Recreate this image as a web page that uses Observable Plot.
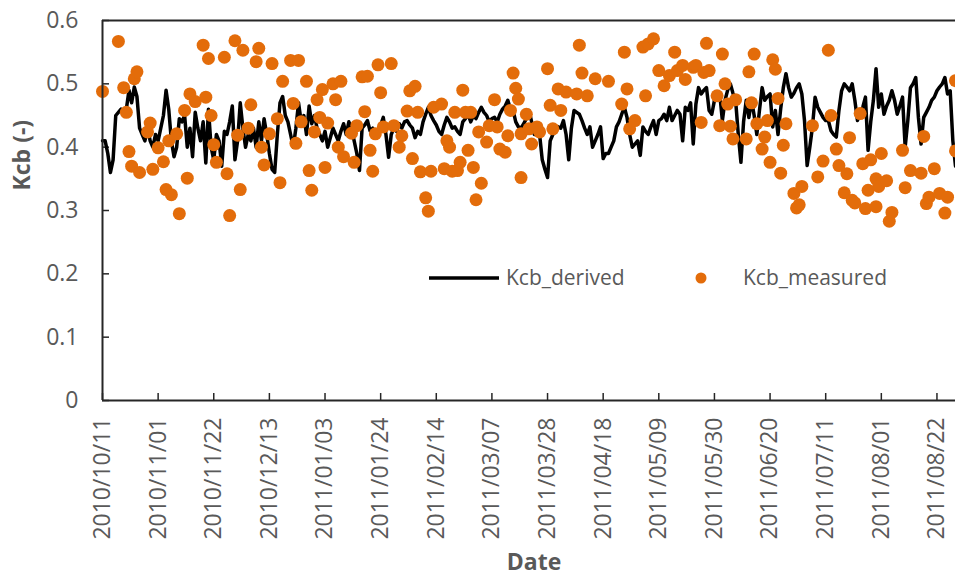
<!DOCTYPE html>
<html><head><meta charset="utf-8">
<script src="https://cdn.jsdelivr.net/npm/d3@7"></script>
<script src="https://cdn.jsdelivr.net/npm/@observablehq/plot@0.6"></script>
<style>body{margin:0;background:#fff;}</style>
</head><body><div id="chart"></div>
<script>
// ---- data ----
const startDate = "2010-10-11";
const endDate = "2011-08-29";
// Kcb_derived, one value per day from startDate
const derivedValues = [
0.41,0.41,0.39,0.36,0.38,0.45,0.455,0.46,0.455,0.46,
0.49,0.47,0.495,0.48,0.43,0.42,0.41,0.43,0.41,0.40,
0.42,0.41,0.43,0.45,0.49,0.46,0.41,0.385,0.40,0.445,
0.44,0.45,0.40,0.43,0.385,0.455,0.43,0.41,0.44,0.375,
0.46,0.40,0.38,0.42,0.41,0.37,0.425,0.42,0.44,0.465,
0.38,0.41,0.47,0.43,0.40,0.42,0.41,0.43,0.40,0.44,
0.41,0.445,0.42,0.39,0.365,0.36,0.42,0.47,0.48,0.45,
0.44,0.42,0.40,0.43,0.47,0.44,0.45,0.42,0.465,0.437,
0.45,0.43,0.42,0.41,0.425,0.40,0.415,0.43,0.42,0.41,
0.425,0.437,0.42,0.44,0.43,0.41,0.39,0.363,0.43,0.435,
0.442,0.426,0.43,0.415,0.42,0.435,0.447,0.42,0.384,0.42,
0.43,0.425,0.437,0.43,0.44,0.442,0.435,0.43,0.415,0.425,
0.42,0.44,0.452,0.463,0.45,0.442,0.435,0.425,0.42,0.435,
0.447,0.44,0.43,0.432,0.425,0.42,0.44,0.445,0.452,0.44,
0.45,0.445,0.455,0.463,0.455,0.45,0.44,0.445,0.447,0.44,
0.452,0.46,0.465,0.474,0.46,0.458,0.44,0.432,0.43,0.437,
0.445,0.458,0.44,0.42,0.425,0.42,0.38,0.365,0.352,0.41,
0.42,0.425,0.432,0.43,0.442,0.42,0.38,0.43,0.458,0.455,
0.452,0.442,0.43,0.42,0.432,0.40,0.41,0.42,0.432,0.382,
0.39,0.39,0.40,0.41,0.432,0.44,0.452,0.463,0.447,0.42,
0.40,0.405,0.41,0.387,0.432,0.425,0.42,0.432,0.442,0.42,
0.442,0.445,0.452,0.442,0.463,0.442,0.45,0.458,0.452,0.41,
0.463,0.458,0.47,0.405,0.468,0.494,0.484,0.49,0.494,0.458,
0.452,0.474,0.48,0.484,0.442,0.474,0.49,0.50,0.485,0.474,
0.42,0.376,0.44,0.474,0.447,0.474,0.45,0.42,0.458,0.494,
0.474,0.48,0.484,0.432,0.458,0.42,0.46,0.494,0.516,0.494,
0.479,0.485,0.494,0.50,0.484,0.442,0.371,0.40,0.432,0.479,
0.463,0.455,0.447,0.442,0.442,0.426,0.42,0.416,0.458,0.489,
0.50,0.495,0.489,0.50,0.474,0.442,0.455,0.463,0.479,0.395,
0.44,0.474,0.524,0.463,0.484,0.452,0.465,0.474,0.489,0.474,
0.452,0.465,0.479,0.40,0.442,0.494,0.50,0.51,0.447,0.405,
0.447,0.455,0.463,0.474,0.479,0.489,0.495,0.50,0.51,0.484,
0.489,0.41,0.37
];
const measuredDates = [
"2010-10-11","2010-10-17","2010-10-19","2010-10-20","2010-10-21","2010-10-22","2010-10-23","2010-10-24","2010-10-25","2010-10-28",
"2010-10-29","2010-10-30","2010-11-01","2010-11-03","2010-11-04","2010-11-05","2010-11-06","2010-11-08","2010-11-09","2010-11-11",
"2010-11-12","2010-11-13","2010-11-15","2010-11-18","2010-11-19","2010-11-20","2010-11-21","2010-11-22","2010-11-23","2010-11-26",
"2010-11-27","2010-11-28","2010-11-30","2010-12-01","2010-12-02","2010-12-03","2010-12-05","2010-12-06","2010-12-08","2010-12-09",
"2010-12-10","2010-12-11","2010-12-13","2010-12-14","2010-12-16","2010-12-17","2010-12-18","2010-12-21","2010-12-22","2010-12-23",
"2010-12-24","2010-12-25","2010-12-27","2010-12-28","2010-12-29","2010-12-30","2010-12-31","2011-01-01","2011-01-02","2011-01-03",
"2011-01-04","2011-01-06","2011-01-07","2011-01-08","2011-01-09","2011-01-10","2011-01-13","2011-01-14","2011-01-15","2011-01-17",
"2011-01-18","2011-01-19","2011-01-20","2011-01-21","2011-01-22","2011-01-23","2011-01-24","2011-01-25","2011-01-28","2011-01-29",
"2011-01-31","2011-02-01","2011-02-03","2011-02-04","2011-02-05","2011-02-06","2011-02-07","2011-02-08","2011-02-10","2011-02-11",
"2011-02-12","2011-02-13","2011-02-16","2011-02-17","2011-02-18","2011-02-19","2011-02-20","2011-02-21","2011-02-22","2011-02-23",
"2011-02-24","2011-02-25","2011-02-26","2011-02-27","2011-02-28","2011-03-01","2011-03-02","2011-03-03","2011-03-05","2011-03-06",
"2011-03-08","2011-03-09","2011-03-10","2011-03-12","2011-03-13","2011-03-14","2011-03-15","2011-03-16","2011-03-17","2011-03-18",
"2011-03-18","2011-03-20","2011-03-21","2011-03-22","2011-03-24","2011-03-25","2011-03-28","2011-03-29","2011-03-30","2011-04-01",
"2011-04-02","2011-04-04","2011-04-08","2011-04-09","2011-04-10","2011-04-12","2011-04-15","2011-04-20","2011-04-25","2011-04-26",
"2011-04-27","2011-04-28","2011-04-30","2011-05-03","2011-05-04","2011-05-05","2011-05-07","2011-05-09","2011-05-11","2011-05-13",
"2011-05-15","2011-05-16","2011-05-18","2011-05-19","2011-05-22","2011-05-23","2011-05-25","2011-05-26","2011-05-27","2011-05-28",
"2011-05-31","2011-06-01","2011-06-02","2011-06-03","2011-06-04","2011-06-05","2011-06-06","2011-06-07","2011-06-11","2011-06-12",
"2011-06-13","2011-06-14","2011-06-15","2011-06-17","2011-06-18","2011-06-19","2011-06-20","2011-06-21","2011-06-22","2011-06-23",
"2011-06-24","2011-06-25","2011-06-26","2011-06-29","2011-06-30","2011-07-01","2011-07-02","2011-07-06","2011-07-08","2011-07-10",
"2011-07-12","2011-07-13","2011-07-15","2011-07-16","2011-07-18","2011-07-19","2011-07-20","2011-07-21","2011-07-22","2011-07-24",
"2011-07-25","2011-07-26","2011-07-27","2011-07-28","2011-07-30","2011-07-30","2011-07-31","2011-08-01","2011-08-03","2011-08-04",
"2011-08-05","2011-08-09","2011-08-10","2011-08-12","2011-08-16","2011-08-17","2011-08-18","2011-08-19","2011-08-21","2011-08-23",
"2011-08-25","2011-08-26","2011-08-29","2011-08-29"
];
const measuredValues = [
0.488,0.567,0.494,0.455,0.393,0.370,0.508,0.519,0.360,0.424,
0.438,0.365,0.399,0.377,0.333,0.410,0.325,0.421,0.295,0.458,
0.351,0.484,0.472,0.561,0.479,0.540,0.450,0.404,0.376,0.542,
0.358,0.292,0.568,0.419,0.333,0.553,0.430,0.467,0.535,0.556,
0.400,0.372,0.421,0.532,0.445,0.344,0.504,0.537,0.469,0.406,
0.537,0.440,0.504,0.363,0.332,0.424,0.475,0.447,0.491,0.368,
0.438,0.500,0.475,0.400,0.504,0.385,0.422,0.376,0.434,0.511,
0.456,0.512,0.395,0.362,0.421,0.530,0.486,0.432,0.532,0.434,
0.400,0.418,0.457,0.489,0.382,0.496,0.455,0.361,0.320,0.299,
0.362,0.463,0.468,0.366,0.410,0.400,0.362,0.455,0.363,0.376,
0.490,0.455,0.395,0.455,0.368,0.317,0.424,0.343,0.408,0.434,
0.475,0.432,0.397,0.392,0.418,0.458,0.517,0.493,0.476,0.352,
0.421,0.452,0.429,0.405,0.432,0.424,0.524,0.466,0.429,0.492,
0.458,0.487,0.484,0.561,0.517,0.481,0.508,0.504,0.468,0.550,
0.492,0.429,0.442,0.558,0.481,0.563,0.571,0.521,0.497,0.513,
0.550,0.521,0.529,0.507,0.526,0.529,0.439,0.518,0.564,0.521,
0.481,0.434,0.547,0.500,0.468,0.433,0.413,0.475,0.413,0.519,
0.470,0.547,0.437,0.397,0.416,0.442,0.376,0.538,0.523,0.477,
0.359,0.403,0.437,0.327,0.304,0.309,0.338,0.434,0.353,0.378,
0.553,0.450,0.397,0.371,0.328,0.358,0.415,0.316,0.312,0.453,
0.374,0.303,0.332,0.380,0.306,0.350,0.338,0.390,0.347,0.283,
0.297,0.395,0.336,0.363,0.359,0.417,0.311,0.321,0.366,0.327,
0.296,0.321,0.505,0.394
];
const xTickDates = ["2010-10-11","2010-11-01","2010-11-22","2010-12-13","2011-01-03","2011-01-24","2011-02-14","2011-03-07","2011-03-28","2011-04-18","2011-05-09","2011-05-30","2011-06-20","2011-07-11","2011-08-01","2011-08-22"];
const yTicks = [0, 0.1, 0.2, 0.3, 0.4, 0.5, 0.6];
const yTickLabels = ["0", "0.1", "0.2", "0.3", "0.4", "0.5", "0.6"];
const seriesNames = ["Kcb_derived", "Kcb_measured"];

// ---- build ----
const parse = d3.utcParse("%Y-%m-%d");
const start = parse(startDate);
const derived = derivedValues.map((v, i) => ({date: d3.utcDay.offset(start, i), value: v}));
const measured = measuredDates.map((d, i) => ({date: parse(d), value: measuredValues[i]}));
const xTicks = xTickDates.map(parse);
const orange = "#e36c0a";
const axisColor = "#262626";
const textColor = "#595959";

const chart = Plot.plot({
  width: 955, height: 577,
  marginLeft: 102, marginRight: 0, marginTop: 20, marginBottom: 177,
  style: {fontFamily: "'Open Sans', sans-serif", fontSize: "23px", color: textColor, background: "white"},
  x: {type: "utc", domain: [start, parse(endDate)]},
  y: {domain: [0, 0.6]},
  marks: [
    Plot.axisY({ticks: yTicks, tickFormat: d => yTickLabels[yTicks.indexOf(d)], tickSize: 0, tickPadding: 24, label: null, fontSize: 23}),
    Plot.axisX({ticks: xTicks, tickFormat: d3.utcFormat("%Y/%m/%d"), tickRotate: -90, tickSize: 0, tickPadding: 17, label: null, fontSize: 23}),
    Plot.tickX(xTicks, {x: d => d, insetTop: 373, stroke: axisColor, strokeWidth: 1.5}),
    Plot.tickY(yTicks, {y: d => d, insetRight: 846, stroke: axisColor, strokeWidth: 1.5}),
    Plot.line(derived, {x: "date", y: "value", stroke: "black", strokeWidth: 3.5}),
    Plot.dot(measured, {x: "date", y: "value", r: 6.5, fill: orange, stroke: "none"}),
    Plot.ruleY([0, 0.6], {stroke: axisColor, strokeWidth: 2}),
    Plot.ruleX([start], {stroke: axisColor, strokeWidth: 2}),
    Plot.text(["Date"], {frameAnchor: "bottom", dx: 5, dy: 169, fontWeight: "bold", fontSize: 23, fill: textColor}),
    Plot.text(["Kcb (-)"], {frameAnchor: "left", dx: -80, dy: -20, rotate: -90, fontWeight: "bold", fontSize: 23, fill: textColor})
  ]
});

// legend inside plot area
const svg = d3.select(chart);
const lg = svg.append("g").attr("font-family", "'Open Sans', sans-serif").attr("font-size", 21).attr("fill", textColor).attr("text-anchor", "start");
lg.append("line").attr("x1", 429).attr("x2", 499).attr("y1", 278).attr("y2", 278).attr("stroke", "black").attr("stroke-width", 3.5);
lg.append("text").attr("x", 506).attr("y", 285).attr("text-anchor", "start").text(seriesNames[0]);
lg.append("circle").attr("cx", 701).attr("cy", 278).attr("r", 5.5).attr("fill", orange);
lg.append("text").attr("x", 743).attr("y", 285).attr("text-anchor", "start").text(seriesNames[1]);

document.getElementById("chart").appendChild(chart);
</script>
</body></html>
